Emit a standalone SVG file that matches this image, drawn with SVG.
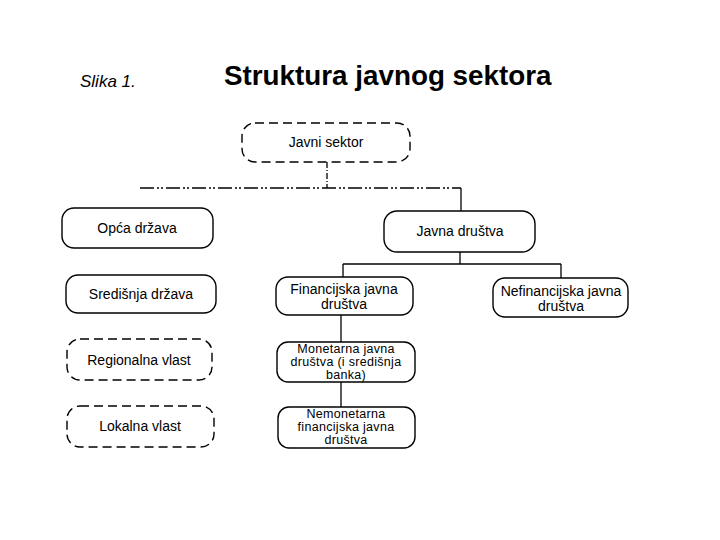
<svg xmlns="http://www.w3.org/2000/svg" width="720" height="540" viewBox="0 0 720 540">
<style>
.box{fill:#fff;stroke:#000;stroke-width:1.4}
.dash{stroke-dasharray:9 5}
.t{font-family:"Liberation Sans",Arial,sans-serif;font-size:14px;fill:#000;text-anchor:middle}
.s{font-size:12.5px;letter-spacing:0.3px}
.c{fill:none;stroke:#000;stroke-width:1.3}
</style>
<rect width="720" height="540" fill="#fff"/>
<text x="80" y="87" font-family="Liberation Sans,Arial,sans-serif" font-size="17" font-style="italic">Slika 1.</text>
<text x="224" y="85" font-family="Liberation Sans,Arial,sans-serif" font-size="27.8" font-weight="bold">Struktura javnog sektora</text>
<g id="connectors">
<line class="c" x1="327" y1="162" x2="327" y2="188" stroke="#777" stroke-dasharray="6 2 1 2"/>
<line class="c" x1="140" y1="188" x2="461" y2="188" stroke-dasharray="14 3 2 2 2 3"/>
<line class="c" x1="461" y1="188" x2="461" y2="211" stroke="#888"/>
<line class="c" x1="460" y1="252" x2="460" y2="264" stroke-width="2.5"/>
<line class="c" x1="343" y1="264" x2="561" y2="264"/>
<line class="c" x1="343" y1="264" x2="343" y2="277"/>
<line class="c" x1="561" y1="264" x2="561" y2="278"/>
<line class="c" x1="341" y1="315" x2="341" y2="342"/>
<line class="c" x1="341" y1="382" x2="341" y2="407"/>
</g>
<g id="javni-sektor">
<rect class="box dash" x="242" y="123" width="168" height="39" rx="13"/>
<text class="t" x="326" y="147">Javni sektor</text>
</g>
<g id="opca-drzava">
<rect class="box" x="62" y="208" width="151" height="40" rx="12"/>
<text class="t" x="137" y="233">Opća država</text>
</g>
<g id="sredisnja-drzava">
<rect class="box" x="66" y="275" width="150" height="38" rx="12"/>
<text class="t" x="141" y="299">Središnja država</text>
</g>
<g id="regionalna-vlast">
<rect class="box dash" x="67" y="339" width="145" height="41" rx="13"/>
<text class="t" x="139" y="365">Regionalna vlast</text>
</g>
<g id="lokalna-vlast">
<rect class="box dash" x="67" y="406" width="147" height="41" rx="13"/>
<text class="t" x="140" y="431">Lokalna vlast</text>
</g>
<g id="javna-drustva">
<rect class="box" x="384" y="211" width="151" height="41" rx="13"/>
<text class="t" x="460" y="236">Javna društva</text>
</g>
<g id="financijska">
<rect class="box" x="276" y="277" width="137" height="38" rx="12"/>
<text class="t" x="344" y="294">Financijska javna</text>
<text class="t" x="344" y="309">društva</text>
</g>
<g id="nefinancijska">
<rect class="box" x="493" y="278" width="135" height="39" rx="12"/>
<text class="t" x="561" y="296">Nefinancijska javna</text>
<text class="t" x="561" y="311">društva</text>
</g>
<g id="monetarna">
<rect class="box" x="277" y="342" width="138" height="40" rx="11"/>
<text class="t s" x="346" y="353">Monetarna javna</text>
<text class="t s" x="346" y="366">društva (i središnja</text>
<text class="t s" x="346" y="379">banka)</text>
</g>
<g id="nemonetarna">
<rect class="box" x="278" y="407" width="137" height="41" rx="11"/>
<text class="t s" x="346" y="418">Nemonetarna</text>
<text class="t s" x="346" y="431">financijska javna</text>
<text class="t s" x="346" y="444">društva</text>
</g>
</svg>
